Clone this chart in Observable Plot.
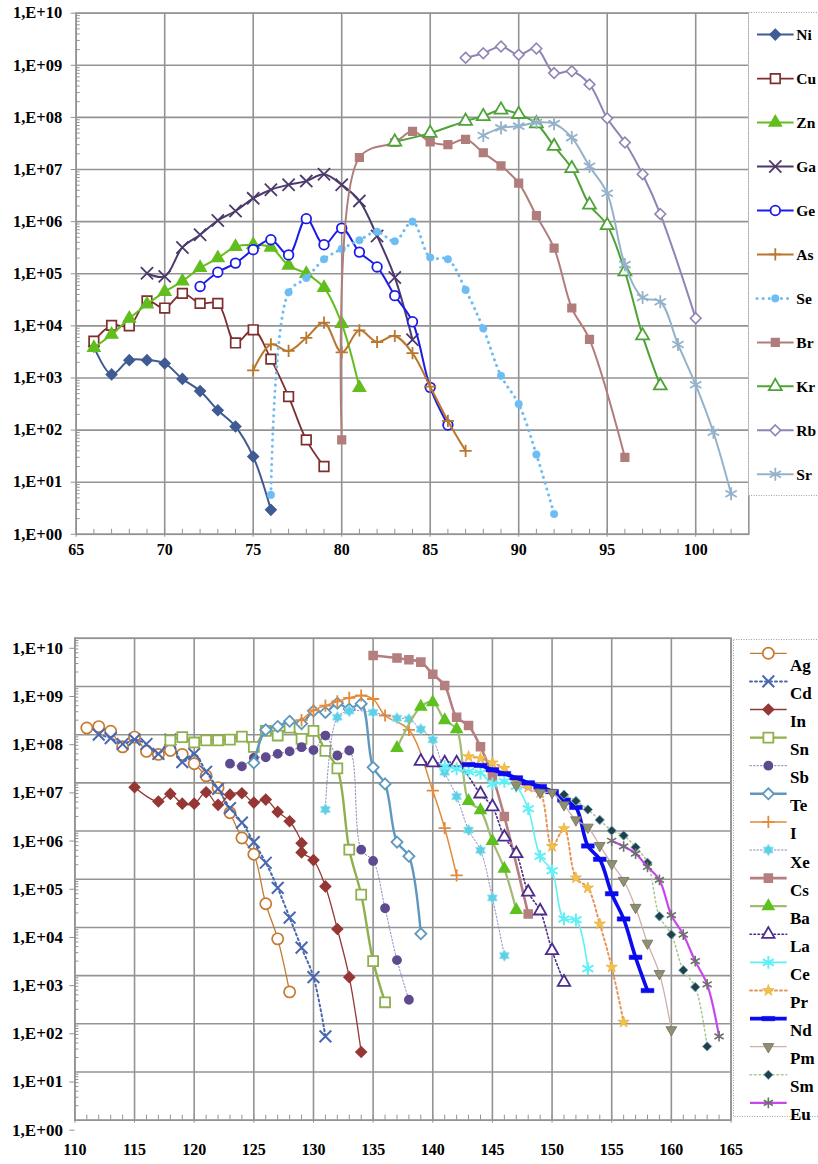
<!DOCTYPE html>
<html><head><meta charset="utf-8">
<script src="https://cdn.jsdelivr.net/npm/d3@7"></script>
<script src="https://cdn.jsdelivr.net/npm/@observablehq/plot@0.6"></script>
<style>
body{margin:0;background:#fff;width:818px;height:1164px;position:relative;overflow:hidden;font-family:"Liberation Serif","Times New Roman",serif;}
.pl{position:absolute;left:0;}
</style></head><body>
<div id="top" class="pl" style="top:0px"></div>
<div id="bot" class="pl" style="top:600px"></div>
<script>
// ---------- top panel data (mass number, yield) ----------
const niX=[66,67,68,69,70,71,72,73,74,75,76];
const niY=[4000,1170,2200,2200,1900,960,560,240,117,31,2.95];
const cuX=[66,67,68,69,70,71,72,73,74,75,76,77,78,79];
const cuY=[5100,10200,10000,30000,22000,42000,27000,27000,4700,8400,2300,440,65,20];
const znX=[66,67,68,69,70,71,72,73,74,75,76,77,78,79,80,81];
const znY=[3800,6800,13800,26000,45000,72000,130000,200000,330000,360000,320000,144000,100000,54000,11000,650];
const gaX=[69,70,71,72,73,74,75,76,77,78,79,80,81,82,83,84];
const gaY=[102000,89000,320000,560000,1050000,1600000,2800000,4100000,5100000,6000000,8100000,5100000,2500000,530000,85000,5400];
const geX=[72,73,74,75,76,77,78,79,80,81,82,83,84,85,86];
const geY=[57000,107000,160000,290000,450000,230000,1140000,360000,750000,260000,135000,38000,12000,660,125];
const asX=[75,76,77,78,79,80,81,82,83,84,85,86,87];
const asY=[1400,4400,3300,5900,11500,3100,8200,4900,6400,3000,680,150,40];
const seX=[76,77,78,79,80,81,82,83,84,85,86,87,88,89,90,91,92];
const seY=[5.7,44000,83000,190000,300000,440000,640000,420000,1000000,205000,190000,49000,8900,1100,315,34,2.45];
const brX=[80,81,83,84,85,86,87,88,89,90,91,92,93,94,96];
const brY=[65,17000000,33000000,54000000,34000000,30000000,38000000,21000000,11800000,5500000,1300000,310000,22000,5500,30];
const krX=[83,85,87,88,89,90,91,92,93,94,95,96,97,98];
const krY=[34000000,50000000,85000000,105000000,140000000,115000000,76000000,28000000,10500000,2100000,850000,110000,6500,710];
const rbX=[87,88,89,90,91,92,93,94,95,96,97,98,100];
const rbY=[1.4e9,1.7e9,2.3e9,1.6e9,2.1e9,7.1e8,7.7e8,4.3e8,9.6e7,3.3e7,8.1e6,1.4e6,14000];
const srX=[88,89,90,91,92,93,94,95,96,97,98,99,100,101,102];
const srY=[4.5e7,6.3e7,6.8e7,8.0e7,7.6e7,4.1e7,1.15e7,3.5e6,1.5e5,35000,29000,4400,740,91,6.0];

// ---------- bottom panel data ----------
const agX=[111,112,113,114,115,116,117,118,119,120,121,122,123,124,125,126,127,128];
const agY=[1.38e8,1.47e8,1.18e8,5.6e7,8.9e7,4.5e7,3.9e7,4.7e7,3.9e7,2.5e7,1.4e7,7.9e6,2.4e6,7.2e5,3.3e5,31000,5800,460];
const cdX=[112,113,114,115,116,117,118,119,120,121,122,123,124,125,126,127,128,129,130,131];
const cdY=[1.0e8,8.5e7,6.4e7,7.9e7,6.4e7,4.0e7,7.9e7,2.7e7,4.0e7,1.7e7,7.5e6,3.0e6,1.5e6,5.9e5,2.2e5,66000,16000,3800,930,55];
const inX=[115,117,118,119,120,121,122,123,124,125,126,127,128,129,129,130,131,132,133,134];
const inY=[8.1e6,4.1e6,5.9e6,3.7e6,3.7e6,6.4e6,3.5e6,5.7e6,6.1e6,3.9e6,4.5e6,2.5e6,1.6e6,5.6e5,3.6e5,2.5e5,71000,9300,930,26];
const snX=[118,119,120,121,122,123,124,125,126,127,128,129,130,131,132,133,134,135,136];
const snY=[7.6e7,8.9e7,6.9e7,7.6e7,7.6e7,7.9e7,9.1e7,5.6e7,1.2e8,9.6e7,1.4e8,8.2e7,1.2e8,4.6e7,2.0e7,4.1e5,48000,2000,280];
const sbX=[123,124,125,126,127,128,129,130,131,132,133,134,135,136,137,138];
const sbY=[2.5e7,2.2e7,3.3e7,3.4e7,4.0e7,4.5e7,5.5e7,4.8e7,9.6e7,3.7e7,4.7e7,4.1e5,2.4e5,25000,2100,316];
const teX=[125,126,127,128,129,130,131,132,133,134,135,136,137,138,139];
const teY=[2.6e7,1.26e8,1.48e8,1.9e8,1.7e8,3.1e8,2.9e8,4.5e8,3.4e8,4.4e8,2.1e7,9.5e6,5.9e5,3.0e5,7400];
const iX=[129,130,131,132,133,134,135,136,138,140,141,142];
const iY=[2.0e8,3.2e8,4.0e8,4.9e8,5.8e8,6.5e8,5.5e8,2.5e8,1.26e8,6.9e6,1.15e6,1.2e5];
const xeX=[131,132,133,135,137,138,139,140,141,142,143,144,145,146];
const xeY=[2.8e6,2.3e8,3.1e8,2.9e8,2.2e8,2.1e8,1.3e8,7.8e7,1.66e7,5.2e6,1.05e6,4.0e5,41000,2600];
const csX=[135,137,138,139,140,141,142,143,144,145,146,148];
const csY=[4.4e9,3.9e9,3.6e9,3.2e9,1.8e9,1.05e9,2.3e8,1.55e8,5.6e7,1.4e7,2.0e6,19000];
const baX=[137,139,140,141,142,143,144,145,146,147];
const baY=[5.3e7,3.8e8,4.7e8,2.0e8,1.3e8,4.2e6,2.7e6,6.2e5,1.65e5,23000];
const laX=[139,140,141,142,144,145,146,147,148,149,150,151];
const laY=[2.8e7,2.6e7,2.6e7,2.6e7,5.9e6,3.2e6,7.5e5,3.4e5,54000,22000,3300,730];
const ceX=[141,142,143,144,145,146,147,148,149,150,151,152,153];
const ceY=[2.2e7,1.95e7,1.7e7,1.6e7,9.5e6,1.07e7,8.5e6,2.9e6,3.0e5,1.5e5,15000,14400,1400];
const prX=[143,144,145,146,147,148,149,150,151,152,153,154,155,156];
const prY=[3.5e7,3.2e7,2.6e7,2.0e7,1.1e7,8.1e6,6.3e6,4.8e5,1.12e6,1.07e5,66000,11800,1500,108];
const ndX=[143,144,145,146,147,148,149,150,151,152,153,154,155,156,157,158];
const ndY=[2.4e7,2.3e7,1.87e7,1.55e7,1.27e7,1.0e7,8.4e6,6.6e6,4.4e6,3.1e6,4.9e5,2.6e5,50000,15000,2400,490];
const pmX=[147,149,150,151,152,153,154,155,156,157,158,159,160];
const pmY=[9.0e6,6.3e6,6.3e6,3.5e6,1.7e6,1.2e6,5.0e5,2.1e5,94000,26000,4700,1100,75];
const smX=[151,152,153,154,155,156,157,158,159,160,161,162,163];
const smY=[5.7e6,4.2e6,2.8e6,1.7e6,1.02e6,8.1e5,4.6e5,2.2e5,17000,7100,1300,580,34];
const euX=[155,156,157,158,159,160,161,162,163,164];
const euY=[6.3e5,4.8e5,3.4e5,1.8e5,97000,18000,7100,2000,660,55];

// axis tick values
const topXTicks=[65,70,75,80,85,90,95,100];
const botXTicks=[110,115,120,125,130,135,140,145,150,155,160,165];
const yTicks=[1,1e1,1e2,1e3,1e4,1e5,1e6,1e7,1e8,1e9,1e10];

// ---------- custom symbols ----------
const dashSym={draw(ctx,size){const w=Math.sqrt(size)*1.45,h=w*0.34;ctx.moveTo(-w/2,-h/2);ctx.lineTo(w/2,-h/2);ctx.lineTo(w/2,h/2);ctx.lineTo(-w/2,h/2);ctx.closePath();}};
const triDown={draw(ctx,size){const a=Math.sqrt(size*4/Math.sqrt(3)),h=a*Math.sqrt(3)/2;ctx.moveTo(-a/2,-h/3);ctx.lineTo(a/2,-h/3);ctx.lineTo(0,2*h/3);ctx.closePath();}};
const star6={draw(ctx,size){const R=Math.sqrt(size)*0.62,r=R*0.6;for(let i=0;i<12;i++){const a=Math.PI*i/6-Math.PI/2,rr=i%2?r:R;const px=rr*Math.cos(a),py=rr*Math.sin(a);i?ctx.lineTo(px,py):ctx.moveTo(px,py);}ctx.closePath();}};

const topSpecs=[
 {name:"Ni",x:niX,y:niY,color:"#3F5B93",symbol:"diamond2",fill:"#3F5B93",r:4.8,lw:2},
 {name:"Cu",x:cuX,y:cuY,color:"#7D2E2E",symbol:"square",fill:"white",r:5.4,lw:1.8,msw:1.7},
 {name:"Zn",x:znX,y:znY,color:"#62BE1C",symbol:"triangle",fill:"#62BE1C",r:4.6,lw:2},
 {name:"Ga",x:gaX,y:gaY,color:"#4C3A6B",symbol:"times",fill:"none",r:5.6,lw:2,msw:1.8},
 {name:"Ge",x:geX,y:geY,color:"#1C1CE8",symbol:"circle",fill:"white",r:4.8,lw:2,msw:1.8},
 {name:"As",x:asX,y:asY,color:"#B9772E",symbol:"plus",fill:"none",r:4,lw:2,msw:1.8},
 {name:"Se",x:seX,y:seY,color:"#6DBDF4",symbol:"circle",fill:"#6DBDF4",r:3.8,lw:3,dash:"0.1 6",msw:0.5},
 {name:"Br",x:brX,y:brY,color:"#B17D7B",symbol:"square",fill:"#B17D7B",r:4.4,lw:2},
 {name:"Kr",x:krX,y:krY,color:"#4EA337",symbol:"triangle",fill:"white",r:4.8,lw:2,msw:1.8},
 {name:"Rb",x:rbX,y:rbY,color:"#9183B5",symbol:"diamond2",fill:"white",r:4.8,lw:2,msw:1.6},
 {name:"Sr",x:srX,y:srY,color:"#94B2CA",symbol:"asterisk",fill:"none",r:6.2,lw:2,msw:1.8}
];
const botSpecs=[
 {name:"Ag",x:agX,y:agY,color:"#C47A30",symbol:"circle",fill:"white",r:5.6,lw:1.3,msw:1.7},
 {name:"Cd",x:cdX,y:cdY,color:"#4A68B0",symbol:"times",fill:"none",r:5.4,lw:2,dash:"2 3",msw:2},
 {name:"In",x:inX,y:inY,color:"#953735",symbol:"diamond2",fill:"#953735",r:4.8,lw:1.3},
 {name:"Sn",x:snX,y:snY,color:"#8EB04E",symbol:"square",fill:"white",r:5.6,lw:2.4,msw:1.8},
 {name:"Sb",x:sbX,y:sbY,color:"#5E4A8E",line:"#8A80BA",symbol:"circle",fill:"#5E4A8E",r:4.2,lw:1,dash:"1.5 2"},
 {name:"Te",x:teX,y:teY,color:"#5E98BE",symbol:"diamond2",fill:"white",r:5,lw:2.4,msw:1.8},
 {name:"I",x:iX,y:iY,color:"#E2893A",symbol:"plus",fill:"none",r:4,lw:1.5,msw:1.8},
 {name:"Xe",x:xeX,y:xeY,color:"#5FCFE5",line:"#8C88C0",symbol:star6,fill:"#5FCFE5",mstroke:"#8FE3F0",r:5.2,lw:1,dash:"1.5 2",msw:0.8},
 {name:"Cs",x:csX,y:csY,color:"#B47F7E",symbol:"square",fill:"#B47F7E",r:4.6,lw:2.6},
 {name:"Ba",x:baX,y:baY,color:"#5DC11E",line:"#A2BA74",symbol:"triangle",fill:"#5DC11E",r:4.2,lw:2.2},
 {name:"La",x:laX,y:laY,color:"#4B2C8C",symbol:"triangle",fill:"white",r:4.6,lw:1.6,dash:"1.5 2.5",msw:1.8},
 {name:"Ce",x:ceX,y:ceY,color:"#5FF0F5",symbol:"asterisk",fill:"none",r:6,lw:1.6,msw:2},
 {name:"Pr",x:prX,y:prY,color:"#F4C247",line:"#E8955B",symbol:"star",fill:"#F4C247",mstroke:"#E8B040",r:3.6,lw:2,dash:"2 3",msw:0.8},
 {name:"Nd",x:ndX,y:ndY,color:"#0B0BEE",symbol:dashSym,fill:"#0B0BEE",r:5,lw:3.6,msw:0.5},
 {name:"Pm",x:pmX,y:pmY,color:"#D2ACAC",symbol:triDown,fill:"#8F9070",mstroke:"#6E6E60",r:4,lw:1.3,msw:0.8},
 {name:"Sm",x:smX,y:smY,color:"#A9C98F",symbol:"diamond2",fill:"#22404C",mstroke:"#6FA6B4",r:4.2,lw:1.6,dash:"1.5 3",msw:1},
 {name:"Eu",x:euX,y:euY,color:"#C847EC",symbol:"asterisk",fill:"none",mstroke:"#6F6F6F",r:5,lw:2.2,msw:1.6}
];

function seriesMarks(specs){
  const m=[];
  for(const s of specs){
    const rows=s.x.map((x,i)=>({x,y:s.y[i]}));
    m.push(Plot.line(rows,{x:"x",y:"y",stroke:s.line??s.color,strokeWidth:s.lw,strokeDasharray:s.dash,strokeLinecap:s.dash?"round":"butt",curve:"catmull-rom"}));
    m.push(Plot.dot(rows,{x:"x",y:"y",symbol:s.symbol,r:s.r,fill:s.fill,stroke:s.mstroke??s.color,strokeWidth:s.msw??1.4}));
  }
  return m;
}
const FONT="Liberation Serif, Times New Roman, serif";
const fmtE=d=>"1,E+"+String(Math.round(Math.log10(d))).padStart(2,"0");
const minorY=[];
for(let e=0;e<10;e++)for(let k=2;k<10;k++)minorY.push(k*Math.pow(10,e));
const GRID="#939393";

function panel({xDomain,xTicks,minorX,height,mt,mb,ml,mr,yFont,xFont,yPad,xPad,yDy,specs}){
  return Plot.plot({
    width:818,height,marginTop:mt,marginBottom:mb,marginLeft:ml,marginRight:mr,
    x:{domain:xDomain,label:null},
    y:{type:"log",domain:[1,1e10],label:null},
    style:{fontFamily:FONT,fontWeight:"bold",color:"black",background:"white",overflow:"visible"},
    marks:[
      Plot.gridX(xTicks,{stroke:GRID,strokeOpacity:1,strokeWidth:1.6}),
      Plot.gridY(yTicks,{stroke:GRID,strokeOpacity:1,strokeWidth:1.6}),
      Plot.frame({stroke:GRID,strokeWidth:1.6}),
      Plot.axisX(minorX,{tickSize:-5,tickFormat:()=>"",stroke:GRID,label:null}),
      Plot.axisY(minorY,{tickSize:-4,tickFormat:()=>"",stroke:GRID,label:null}),
      Plot.axisX(xTicks,{tickSize:3,stroke:GRID,tickPadding:xPad,tickFormat:d=>String(d),fontSize:xFont,fontWeight:"bold",fontFamily:FONT,fill:"black",label:null}),
      Plot.axisY(yTicks,{tickSize:5,stroke:GRID,tickPadding:yPad,tickFormat:fmtE,fontSize:yFont,fontWeight:"bold",fontFamily:FONT,fill:"black",dy:yDy,label:null}),
      ...seriesMarks(specs)
    ]
  });
}

document.getElementById("top").append(panel({
  xDomain:[65,103],xTicks:topXTicks,minorX:d3.range(66,103),height:568,
  mt:12.7,mb:568-533.8,ml:75.7,mr:818-748.3,yFont:16.5,xFont:16,yPad:9,xPad:6,yDy:0,specs:topSpecs
}));
document.getElementById("bot").append(panel({
  xDomain:[110,165],xTicks:botXTicks,minorX:d3.range(111,165),height:564,
  mt:37.8,mb:564-519.7,ml:74.4,mr:818-730.5,yFont:17,xFont:16,yPad:7,xPad:20,yDy:10,specs:botSpecs
}));

// ---------- legends ----------
function symType(s){return typeof s==="string"?d3["symbol"+s[0].toUpperCase()+s.slice(1)]:s;}
function legend(specs,o){
  const svg=d3.create("svg").attr("width",o.w).attr("height",o.h+20)
    .style("position","absolute").style("left",o.left+"px").style("top",o.top+"px").style("overflow","visible");
  svg.append("rect").attr("x",0.5).attr("y",0.5).attr("width",o.w+10).attr("height",o.h-1)
    .attr("fill","white").attr("stroke","#A0A0A0").attr("stroke-dasharray","1 1.5");
  specs.forEach((s,i)=>{
    const y=o.y0+i*o.dy;
    svg.append("line").attr("x1",o.x1).attr("x2",o.x2).attr("y1",y).attr("y2",y)
      .attr("stroke",s.line??s.color).attr("stroke-width",s.lw)
      .attr("stroke-dasharray",s.dash??null).attr("stroke-linecap",s.dash?"round":"butt");
    svg.append("path").attr("d",d3.symbol(symType(s.symbol),Math.PI*s.r*s.r)())
      .attr("transform",`translate(${(o.x1+o.x2)/2},${y})`)
      .attr("fill",s.fill).attr("stroke",s.mstroke??s.color).attr("stroke-width",s.msw??1.4);
    svg.append("text").attr("x",o.tx).attr("y",y+o.tdy).attr("dominant-baseline","central")
      .attr("font-family",FONT).attr("font-weight","bold").attr("font-size",o.fs)
      .attr("fill","black").text(s.name);
  });
  document.body.append(svg.node());
}
legend(topSpecs,{left:747.7,top:11.7,w:818-747.7,h:484,y0:34.3-11.7,dy:43.97,x1:9,x2:45.6,tx:48.3,tdy:0,fs:15.5});
legend(botSpecs,{left:733,top:639,w:818-733,h:478,y0:653.3-639,dy:28.1,x1:17,x2:53.7,tx:57,tdy:12,fs:17});
</script>
</body></html>
